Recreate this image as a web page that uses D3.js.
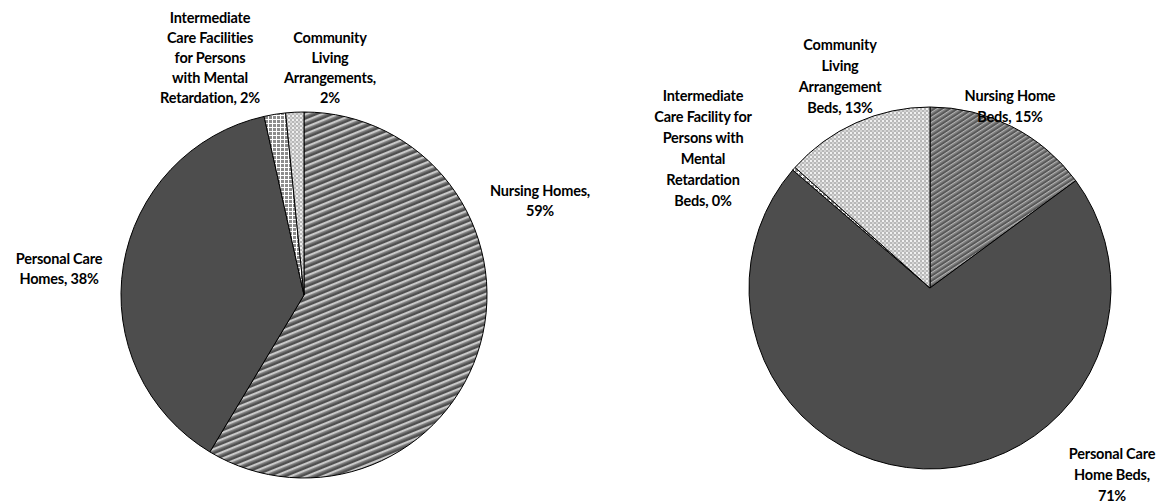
<!DOCTYPE html>
<html><head><meta charset="utf-8">
<script src="https://cdn.jsdelivr.net/npm/d3@7"></script>
<style>
body{margin:0;background:#fff}
text{font-family:Lato,"Open Sans",sans-serif;font-weight:bold;font-size:14.5px;fill:#000;letter-spacing:-0.2px}
</style>
</head><body><svg id="c" width="1156" height="502"></svg>
<script>
// ---- data ----
const leftCategories = ["Nursing Homes", "Personal Care Homes", "Intermediate Care Facilities for Persons with Mental Retardation", "Community Living Arrangements"];
const leftValues = [58.6, 37.9, 1.9, 1.6];
const leftLabelLines = [["Nursing Homes,", "{p}"], ["Personal Care", "Homes, {p}"], ["Intermediate", "Care Facilities", "for Persons", "with Mental", "Retardation, {p}"], ["Community", "Living", "Arrangements,", "{p}"]];

const rightCategories = ["Nursing Home Beds", "Personal Care Home Beds", "Intermediate Care Facility for Persons with Mental Retardation Beds", "Community Living Arrangement Beds"];
const rightValues = [14.9, 71.4, 0.3, 13.4];
const rightLabelLines = [["Nursing Home", "Beds, {p}"], ["Personal Care", "Home Beds,", "{p}"], ["Intermediate", "Care Facility for", "Persons with", "Mental", "Retardation", "Beds, {p}"], ["Community", "Living", "Arrangement", "Beds, {p}"]];

// ---- layout (not data) ----
const leftLayout = {cx: 304, cy: 295, r: 183, lh: 20,
  fills: ["url(#patNL)", "#4d4d4d", "url(#patGrid)", "url(#patDots)"],
  labels: [[540, 200], [59, 268], [210, 57], [330, 67]]};
const rightLayout = {cx: 930, cy: 288, r: 181, lh: 21,
  fills: ["url(#patNR)", "#4d4d4d", "url(#patGrid)", "url(#patDots)"],
  labels: [[1010, 106], [1112, 474], [703, 148], [840, 76]]};

const svg = d3.select("#c");
const defs = svg.append("defs");

let p = defs.append("pattern").attr("id", "patNL").attr("patternUnits", "userSpaceOnUse")
  .attr("width", 8).attr("height", 6).attr("patternTransform", "rotate(-22)");
p.append("rect").attr("width", 8).attr("height", 6).attr("fill", "#4f4f4f");
p.append("rect").attr("width", 8).attr("height", 2).attr("fill", "#c8c8c8");
p.append("rect").attr("y", 2).attr("width", 8).attr("height", 1.5).attr("fill", "#858585");

p = defs.append("pattern").attr("id", "patNR").attr("patternUnits", "userSpaceOnUse")
  .attr("width", 5).attr("height", 4.2).attr("patternTransform", "rotate(-33)");
p.append("rect").attr("width", 5).attr("height", 4.2).attr("fill", "#585858");
p.append("rect").attr("width", 5).attr("height", 1.3).attr("fill", "#b4b4b4");
p.append("rect").attr("y", 1.3).attr("width", 5).attr("height", 1).attr("fill", "#808080");

p = defs.append("pattern").attr("id", "patDots").attr("patternUnits", "userSpaceOnUse")
  .attr("width", 4).attr("height", 4);
p.append("rect").attr("width", 4).attr("height", 4).attr("fill", "#b8b8b8");
p.append("rect").attr("width", 2).attr("height", 2).attr("fill", "#f0f0f0");
p.append("rect").attr("x", 2).attr("y", 2).attr("width", 2).attr("height", 2).attr("fill", "#d4d4d4");

p = defs.append("pattern").attr("id", "patGrid").attr("patternUnits", "userSpaceOnUse")
  .attr("width", 4).attr("height", 4);
p.append("rect").attr("width", 4).attr("height", 4).attr("fill", "#fff");
p.append("rect").attr("x", 1).attr("y", 1).attr("width", 3).attr("height", 3).attr("fill", "#8c8c8c");

function drawPie(values, lines, L) {
  const g = svg.append("g").attr("transform", `translate(${L.cx},${L.cy})`);
  const pie = d3.pie().sort(null).value(d => d)(values);
  const arc = d3.arc().innerRadius(0).outerRadius(L.r);
  g.selectAll("path").data(pie).join("path")
    .attr("d", arc)
    .attr("fill", (d, i) => L.fills[i])
    .attr("stroke", "#000").attr("stroke-width", 1).attr("stroke-linejoin", "round");
  lines.forEach((ls, i) => {
    const pct = Math.round(values[i]) + "%";
    const [x, y] = L.labels[i];
    const t = svg.append("text").attr("text-anchor", "middle");
    ls.forEach((s, j) => {
      t.append("tspan").attr("x", x)
        .attr("y", y + (j - (ls.length - 1) / 2) * L.lh)
        .attr("dominant-baseline", "central")
        .text(s.replace("{p}", pct));
    });
  });
}
drawPie(leftValues, leftLabelLines, leftLayout);
drawPie(rightValues, rightLabelLines, rightLayout);
</script>
</body></html>
